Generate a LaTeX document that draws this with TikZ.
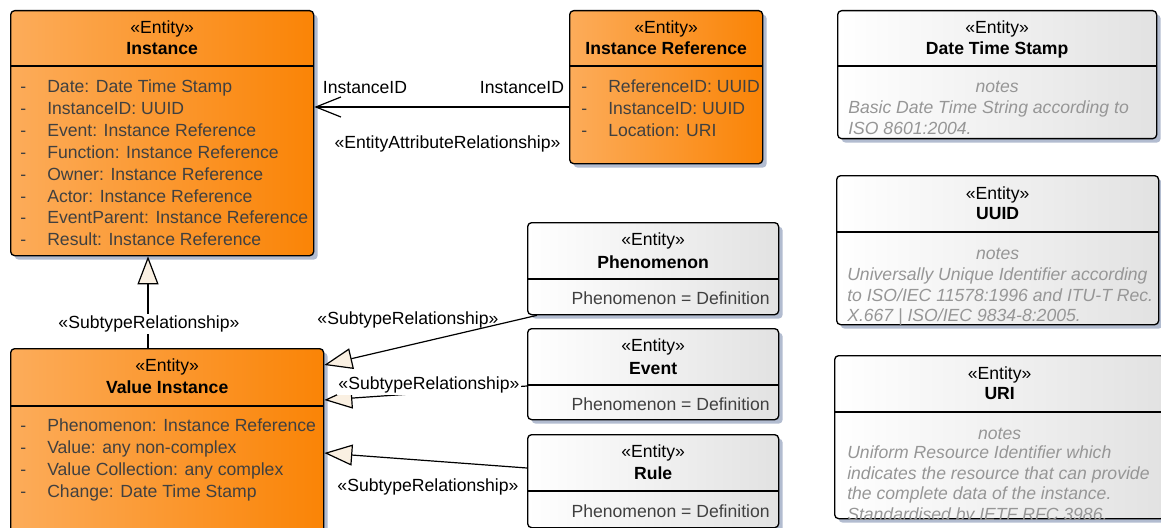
\documentclass[tikz,border=0pt]{standalone}
\usepackage{fontspec}
\setmainfont{Liberation Sans}
\usetikzlibrary{arrows.meta, shadows, calc, positioning}
\definecolor{entLight}{RGB}{252,172,90}
\definecolor{entDark}{RGB}{250,132,6}
\definecolor{greyDark}{RGB}{226,226,226}
\definecolor{attrGrey}{RGB}{64,64,64}
\definecolor{noteGrey}{RGB}{150,150,150}
\definecolor{genFill}{RGB}{250,240,226}
\definecolor{shadowBlue}{RGB}{178,188,208}
\tikzset{
    entBox/.style={rectangle, draw=black, line width=1pt, rounded corners=3pt, inner sep=0pt, anchor=north west,
        drop shadow={shadow xshift=3pt, shadow yshift=-3pt, fill=shadowBlue, opacity=1}},
    entOrange/.style={entBox, left color=entLight, right color=entDark},
    entGrey/.style={entBox, left color=white, right color=greyDark},
    sepLine/.style={line width=1pt},
    stereoText/.style={font=\fontsize{13.2}{16}\selectfont, inner sep=0pt, anchor=mid, yshift=-2.25pt},
    titleText/.style={font=\fontsize{13.2}{16}\selectfont\bfseries, inner sep=0pt, anchor=mid, yshift=-2.25pt},
    attrText/.style={font=\fontsize{13.2}{16}\selectfont, text=attrGrey, inner sep=0pt, anchor=mid west, yshift=-2.25pt},
    noteHead/.style={font=\fontsize{13.2}{16}\selectfont\itshape, text=noteGrey, inner sep=0pt, anchor=mid, yshift=-2.25pt},
    noteText/.style={font=\fontsize{13.2}{16}\selectfont\itshape, text=noteGrey, inner sep=0pt, anchor=mid west, yshift=-2.25pt},
    relLabel/.style={font=\fontsize{13.2}{16}\selectfont, inner sep=1pt, anchor=mid, yshift=-2.25pt},
    attrLink/.style={-{Straight Barb[length=18.75pt, width=15pt]}, line width=0.9pt},
    genLink/.style={-{Triangle[length=21pt, width=15.75pt, fill=genFill]}, line width=0.9pt},
}
% box from its corners (pixel units)
\newcommand{\entity}[6]{
    \node[#1, minimum width={(#5-#3)*0.75pt}, minimum height={(#6-#4)*0.75pt}] (#2) at (#3,#4) {};
}
\newcommand{\entityHead}[5]{
    \node[stereoText] (#1-st) at (#1.north |- 0,#2) {«Entity»};
    \node[titleText] (#1-ti) at (#1.north |- 0,#3) {#5};
    \draw[sepLine] (#1.west |- 0,#4) -- (#1.east |- 0,#4);
}
\newcommand{\attrList}[4]{
    \foreach \a [count=\i] in {#4} {
        \node[attrText] (#1-d\i) at (#2, {#3+21.9*(\i-1)}) {-};
        \node[attrText] (#1-a\i) at ({#2+27}, {#3+21.9*(\i-1)}) {\a};
    }
}
\newcommand{\noteLines}[5]{
    \node[noteHead] (#1-nh) at (#1.north |- 0,#3) {notes};
    \begin{scope}
        \clip (#1.north west) rectangle (#1.south east);
        \foreach \l [count=\i] in {#5} {
            \node[noteText] (#1-n\i) at (#2, {#4+20.5*(\i-1)}) {\l};
        }
    \end{scope}
}

\begin{document}
\begin{tikzpicture}[x=0.75pt, y=-0.75pt]
    \useasboundingbox (0,0) rectangle (1161,528);

    \entity{entOrange}{inst}{10}{10}{313}{255}
    \entity{entOrange}{iref}{569}{10}{762}{163}
    \entity{entGrey}{dts}{837}{10}{1156}{138}
    \entity{entGrey}{uuid}{836}{175}{1158}{324}
    \entity{entGrey}{uri}{834}{355}{1164}{518}
    \entity{entGrey}{phen}{527}{222}{778}{314}
    \entity{entGrey}{evt}{527}{328}{778}{419}
    \entity{entGrey}{rule}{527}{434}{778}{527}
    \entity{entOrange}{vinst}{10}{348}{323}{545}

    \entityHead{inst}{27}{48}{66}{Instance}
    \attrList{inst}{20}{86}{Date: Date Time Stamp, InstanceID: UUID, Event: Instance Reference,
        Function: Instance Reference, Owner: Instance Reference, Actor: Instance Reference,
        EventParent: Instance Reference, Result: Instance Reference}

    \entityHead{iref}{27}{48}{66}{Instance Reference}
    \attrList{iref}{581}{86}{ReferenceID: UUID, InstanceID: UUID, Location: URI}

    \entityHead{dts}{27}{48}{66}{Date Time Stamp}
    \noteLines{dts}{848}{86}{107}{Basic Date Time String according to, ISO 8601:2004.}

    \entityHead{uuid}{193}{213}{232}{UUID}
    \noteLines{uuid}{847}{253}{274}{Universally Unique Identifier according,
        to ISO/IEC 11578:1996 and ITU-T Rec., X.667 | ISO/IEC 9834-8:2005.}

    \entityHead{uri}{373}{393}{412}{URI}
    \noteLines{uri}{847}{433}{452}{Uniform Resource Identifier which,
        indicates the resource that can provide, the complete data of the instance.,
        Standardised by IETF RFC 3986.}

    \entityHead{phen}{239}{262}{279}{Phenomenon}
    \node[attrText, anchor=mid east] (phen-a1) at (770,298) {Phenomenon = Definition};
    \entityHead{evt}{345}{368}{385}{Event}
    \node[attrText, anchor=mid east] (evt-a1) at (770,404) {Phenomenon = Definition};
    \entityHead{rule}{451}{473}{491}{Rule}
    \node[attrText, anchor=mid east] (rule-a1) at (770,511) {Phenomenon = Definition};

    \entityHead{vinst}{365}{387}{406}{Value Instance}
    \attrList{vinst}{20}{425}{Phenomenon: Instance Reference, Value: any non-complex,
        Value Collection: any complex, Change: Date Time Stamp}

    % relationships
    \draw[attrLink] (iref.west |- 0,107) -- (inst.east |- 0,107);
    \draw[genLink] (vinst.north -| 148,0) -- (inst.south -| 148,0);
    \draw[genLink] ($(phen.south west)+(10,0)$) -- (vinst.east |- 0,365);
    \draw[genLink] (evt.west |- 0,386) -- (vinst.east |- 0,400);
    \draw[genLink] (rule.west |- 0,468) -- (vinst.east |- 0,453);

    \node[relLabel] (lbl-srcid) at (365,87) {InstanceID};
    \node[relLabel] (lbl-tgtid) at (522,87) {InstanceID};
    \node[relLabel] (lbl-attr) at (447.5,142) {«EntityAttributeRelationship»};
    \node[relLabel, fill=white] (lbl-vinst) at (149,322) {«SubtypeRelationship»};
    \node[relLabel] (lbl-phen) at (408,318) {«SubtypeRelationship»};
    \node[relLabel, fill=white] (lbl-evt) at (429,383) {«SubtypeRelationship»};
    \node[relLabel] (lbl-rule) at (428,485) {«SubtypeRelationship»};

\end{tikzpicture}
\end{document}
